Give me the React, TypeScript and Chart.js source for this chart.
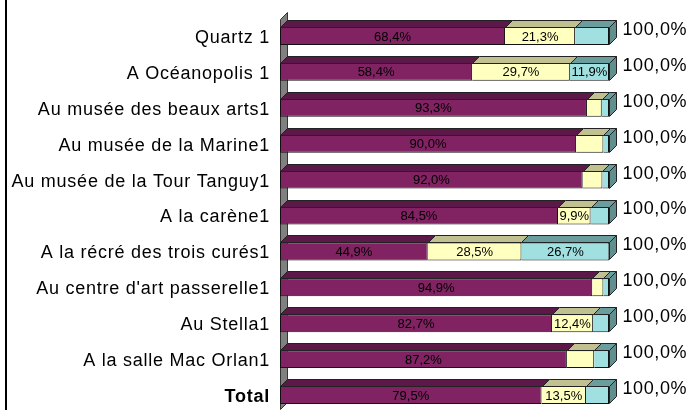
import React, { useEffect, useRef } from "react";
import { Chart, registerables } from "chart.js";

Chart.register(...registerables);

const CATEGORIES = [
  "Quartz 1",
  "A Océanopolis 1",
  "Au musée des beaux arts1",
  "Au musée de la Marine1",
  "Au musée de la Tour Tanguy1",
  "A la carène1",
  "A la récré des trois curés1",
  "Au centre d'art passerelle1",
  "Au Stella1",
  "A la salle Mac Orlan1",
  "Total",
];
const SERIES_1 = [68.4, 58.4, 93.3, 90.0, 92.0, 84.5, 44.9, 94.9, 82.7, 87.2, 79.5];
const SERIES_2 = [21.3, 29.7, 4.5, 8.3, 6.0, 9.9, 28.5, 3.4, 12.4, 8.3, 13.5];
const SERIES_3 = [10.3, 11.9, 2.2, 1.7, 2.0, 5.6, 26.7, 1.7, 4.9, 4.5, 7.0];
const SHOW_1 = [true, true, true, true, true, true, true, true, true, true, true];
const SHOW_2 = [true, true, false, false, false, true, true, false, true, false, true];
const SHOW_3 = [false, true, false, false, false, false, true, false, false, false, false];
const TOTAL_LABELS = [
  "100,0%", "100,0%", "100,0%", "100,0%", "100,0%", "100,0%",
  "100,0%", "100,0%", "100,0%", "100,0%", "100,0%",
];

const FONT = "'Liberation Sans', Arial, sans-serif";
const FRONT = ["#812262", "#FFFFC0", "#A0E0E0"];
const TOP = ["#5C1848", "#C0C090", "#6A9E9E"];
const SIDE = ["#4A1038", "#A0A070", "#5F8F8F"];
const DEPTH = 7;

const fmt = (v: number) => v.toFixed(1).replace(".", ",") + "%";

const threeD = {
  id: "threeD",
  beforeDraw(chart: any) {
    chart.ctx.letterSpacing = "0.75px";
  },
  beforeDatasetsDraw(chart: any) {
    const ctx = chart.ctx;
    const { left, top, bottom } = chart.chartArea;
    ctx.save();
    ctx.beginPath();
    ctx.moveTo(left + 0.5, top + 1.5);
    ctx.lineTo(left + DEPTH + 0.5, top - DEPTH + 1.5);
    ctx.lineTo(left + DEPTH + 0.5, bottom - DEPTH - 3.5);
    ctx.lineTo(left + 0.5, bottom - 3.5);
    ctx.closePath();
    ctx.fillStyle = "#808080";
    ctx.fill();
    ctx.strokeStyle = "#333";
    ctx.lineWidth = 1;
    ctx.stroke();
    ctx.restore();
  },
  afterDatasetsDraw(chart: any) {
    const ctx = chart.ctx;
    const n = chart.data.labels.length;
    const shows = [SHOW_1, SHOW_2, SHOW_3];
    ctx.save();
    ctx.lineWidth = 1;
    ctx.strokeStyle = "#222";
    for (let i = 0; i < n; i++) {
      let last: any = null;
      let lastDi = 0;
      let cy = 0;
      chart.data.datasets.forEach((ds: any, di: number) => {
        const el = chart.getDatasetMeta(di).data[i];
        const p = el.getProps(["x", "y", "base", "height"], true);
        const l = Math.round(Math.min(p.base, p.x)) + 0.5;
        const r = Math.round(Math.max(p.base, p.x)) + 0.5;
        const t = Math.round(p.y - p.height / 2) + 0.5;
        cy = p.y;
        ctx.beginPath();
        ctx.moveTo(l, t);
        ctx.lineTo(l + DEPTH, t - DEPTH);
        ctx.lineTo(r + DEPTH, t - DEPTH);
        ctx.lineTo(r, t);
        ctx.closePath();
        ctx.fillStyle = TOP[di];
        ctx.fill();
        ctx.stroke();
        last = { l, r, t, b: Math.round(p.y + p.height / 2) - 0.5 };
        lastDi = di;
      });
      if (last) {
        ctx.beginPath();
        ctx.moveTo(last.r, last.t);
        ctx.lineTo(last.r + DEPTH, last.t - DEPTH);
        ctx.lineTo(last.r + DEPTH, last.b - DEPTH);
        ctx.lineTo(last.r, last.b);
        ctx.closePath();
        ctx.fillStyle = SIDE[lastDi];
        ctx.fill();
        ctx.stroke();
      }
      // value labels
      ctx.fillStyle = "#000";
      ctx.textBaseline = "middle";
      ctx.textAlign = "center";
      ctx.letterSpacing = "0px";
      ctx.font = `13px ${FONT}`;
      chart.data.datasets.forEach((ds: any, di: number) => {
        if (!shows[di][i]) return;
        const el = chart.getDatasetMeta(di).data[i];
        const p = el.getProps(["x", "y", "base"], true);
        ctx.fillText(fmt(ds.data[i]), (p.x + p.base) / 2, p.y + 1);
      });
      if (last) {
        ctx.textAlign = "left";
        ctx.letterSpacing = "0.6px";
        ctx.font = `18px ${FONT}`;
        ctx.fillText(TOTAL_LABELS[i], last.r + DEPTH + 6, cy - 6);
      }
    }
    ctx.restore();
  },
  afterDraw(chart: any) {
    const ctx = chart.ctx;
    ctx.save();
    ctx.fillStyle = "#000";
    ctx.fillRect(5, 0, 2, chart.height);
    ctx.restore();
    ctx.letterSpacing = "0px";
  },
};

export default function App() {
  const ref = useRef<HTMLCanvasElement>(null);
  useEffect(() => {
    if (!ref.current) return;
    const mk = (data: number[], di: number) => ({
      label: "S" + (di + 1),
      data,
      backgroundColor: FRONT[di],
      borderColor: "#111",
      borderWidth: { left: di === 0 ? 1 : 0, right: 1, top: 1, bottom: 1 },
      borderSkipped: false,
      barPercentage: 0.5,
      categoryPercentage: 1.0,
    });
    const chart = new Chart(ref.current, {
      type: "bar",
      data: {
        labels: CATEGORIES,
        datasets: [mk(SERIES_1, 0), mk(SERIES_2, 1), mk(SERIES_3, 2)],
      },
      options: {
        indexAxis: "y",
        responsive: false,
        animation: false,
        devicePixelRatio: 1,
        layout: { padding: { left: 0, right: 81, top: 18, bottom: 0 } },
        plugins: { legend: { display: false }, tooltip: { enabled: false } },
        scales: {
          x: { stacked: true, min: 0, max: 100, display: false },
          y: {
            stacked: true,
            grid: { display: false, drawTicks: false },
            border: { display: false },
            ticks: {
              padding: 10,
              color: "#000",
              labelOffset: 2,
              font: (c: any) => ({
                family: FONT,
                size: 18,
                weight: c.index === 10 ? "bold" : "normal",
              }),
            },
            afterFit: (s: any) => {
              s.width = 280;
              s.paddingTop = 0;
              s.paddingBottom = 0;
            },
          },
        },
      } as any,
      plugins: [threeD],
    });
    return () => chart.destroy();
  }, []);
  return (
    <div style={{ position: "fixed", left: 0, top: 0, width: 690, height: 410, overflow: "hidden", background: "#fff" }}>
      <canvas ref={ref} width={690} height={413} style={{ display: "block" }} />
    </div>
  );
}
